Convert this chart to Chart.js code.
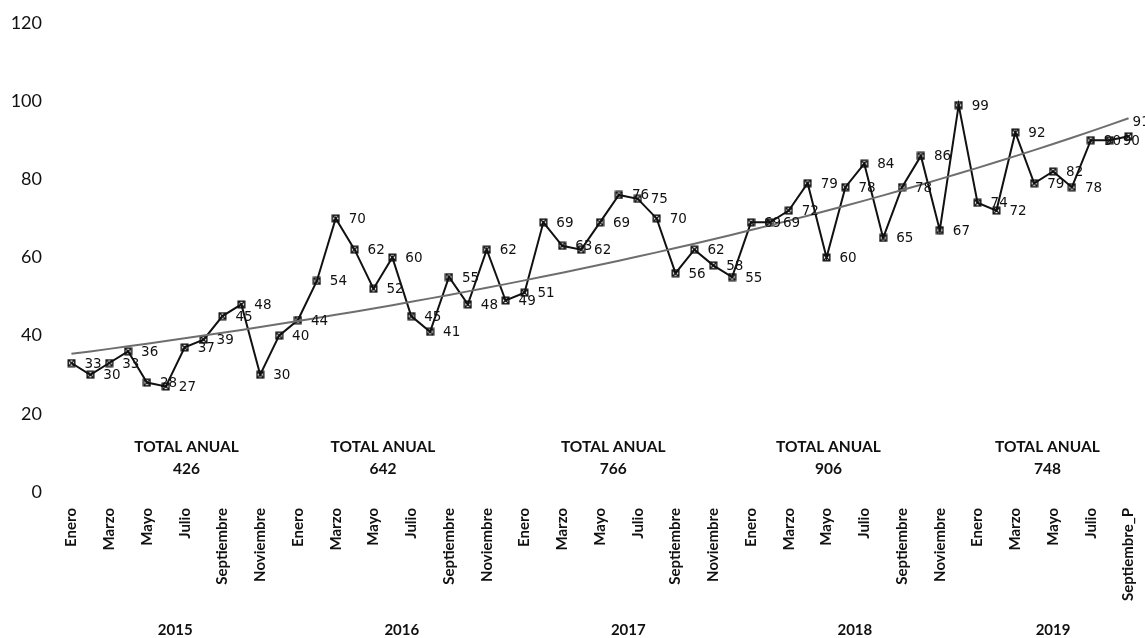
<!DOCTYPE html>
<html>
<head>
<meta charset="utf-8">
<script src="https://cdn.jsdelivr.net/npm/chart.js@4"></script>
<style>
  html, body { margin: 0; padding: 0; background: #fff; }
  #wrap { width: 1145px; height: 638px; position: relative; }
</style>
</head>
<body>
<div id="wrap"><canvas id="c" width="1145" height="638"></canvas></div>
<script>
// ---- Data ----
const monthNames = ["Enero","Febrero","Marzo","Abril","Mayo","Junio","Julio","Agosto","Septiembre","Octubre","Noviembre","Diciembre"];
const years = ["2015","2016","2017","2018","2019"];
const monthsPerYear = [12, 12, 12, 12, 9];
const values2015 = [33,30,33,36,28,27,37,39,45,48,30,40];
const values2016 = [44,54,70,62,52,60,45,41,55,48,62,49];
const values2017 = [51,69,63,62,69,76,75,70,56,62,58,55];
const values2018 = [69,69,72,79,60,78,84,65,78,86,67,99];
const values2019 = [74,72,92,79,82,78,90,90,91];
const annualTotals = [426, 642, 766, 906, 748];
const totalLabel = "TOTAL ANUAL";
const yTicks = [0,20,40,60,80,100,120];

// ---- Build categories ----
const categories = [];
years.forEach((y, yi) => {
  for (let m = 0; m < monthsPerYear[yi]; m++) {
    let name = monthNames[m];
    if (yi === years.length - 1 && m === monthsPerYear[yi] - 1) name = name + "_P";
    categories.push(name);
  }
});
const values = [].concat(values2015, values2016, values2017, values2018, values2019);

// Exponential trendline (least squares on ln y), as Excel does
const n = values.length;
let sx = 0, sy = 0, sxx = 0, sxy = 0;
values.forEach((v, i) => { const x = i + 1, ly = Math.log(v); sx += x; sy += ly; sxx += x * x; sxy += x * ly; });
const b = (n * sxy - sx * sy) / (n * sxx - sx * sx);
const a = Math.exp((sy - b * sx) / n);
const trend = values.map((v, i) => a * Math.exp(b * (i + 1)));

// ---- Marker ----
const mk = document.createElement('canvas');
mk.width = 9; mk.height = 9;
(function () {
  const c = mk.getContext('2d');
  c.strokeStyle = '#111'; c.lineWidth = 1.4;
  c.strokeRect(1.2, 1.2, 6.6, 6.6);
  c.beginPath(); c.moveTo(1.5, 1.5); c.lineTo(7.5, 7.5); c.moveTo(7.5, 1.5); c.lineTo(1.5, 7.5); c.stroke();
})();

// ---- Annotation positions (category index units / value units) ----
const totalAnchors = [6.1, 16.5, 28.7, 40.1, 51.7];
const totalTitleY = 11.4, totalValueY = 6.0;

const annotPlugin = {
  id: 'annot',
  afterDatasetsDraw(chart) {
    const ctx = chart.ctx, xs = chart.scales.x, ys = chart.scales.y;
    ctx.save();
    // data labels
    const meta = chart.getDatasetMeta(0);
    ctx.font = '13.5px "DejaVu Sans"';
    ctx.fillStyle = '#111';
    ctx.textAlign = 'left'; ctx.textBaseline = 'middle';
    meta.data.forEach((pt, i) => {
      if (i === meta.data.length - 1) {
        ctx.fillText(String(values[i]), pt.x + 4, pt.y - 14);
      } else {
        ctx.fillText(String(values[i]), pt.x + 13, pt.y + 1);
      }
    });
    // totals
    ctx.font = 'bold 15.5px Lato';
    ctx.textAlign = 'center';
    annualTotals.forEach((t, i) => {
      const x = xs.getPixelForValue(totalAnchors[i]);
      ctx.fillText(totalLabel, x, ys.getPixelForValue(totalTitleY));
      ctx.fillText(String(t), x, ys.getPixelForValue(totalValueY));
    });
    // years
    ctx.font = 'bold 15px Lato';
    let start = 0;
    years.forEach((y, yi) => {
      const end = start + monthsPerYear[yi] - 1;
      const x = (xs.getPixelForValue(start) + xs.getPixelForValue(end)) / 2;
      ctx.fillText(y, x, 630);
      start = end + 1;
    });
    ctx.restore();
  }
};

new Chart(document.getElementById('c'), {
  type: 'line',
  data: {
    labels: categories,
    datasets: [
      {
        data: values,
        borderColor: '#111',
        borderWidth: 2,
        pointStyle: mk,
        pointRadius: 4,
        tension: 0,
        order: 2
      },
      {
        data: trend,
        borderColor: '#6e6e6e',
        borderWidth: 2,
        pointRadius: 0,
        tension: 0,
        order: 1
      }
    ]
  },
  options: {
    responsive: false,
    animation: false,
    events: [],
    layout: { padding: { left: 0, right: 7, top: 23, bottom: 0 } },
    plugins: { legend: { display: false }, tooltip: { enabled: false } },
    scales: {
      x: {
        offset: true,
        grid: { display: false, drawTicks: false },
        border: { display: false },
        afterFit(s) { s.height = 146; s.paddingLeft = 0; s.paddingRight = 0; },
        ticks: {
          autoSkip: false,
          maxRotation: 90, minRotation: 90,
          padding: 16,
          color: '#111',
          font: { family: 'Lato', weight: 'bold', size: 15 },
          callback(v, i) { return i % 2 === 0 ? categories[i] : ''; }
        }
      },
      y: {
        min: 0, max: 120,
        afterFit(s) { s.width = 62; s.paddingTop = 0; s.paddingBottom = 0; },
        afterBuildTicks(s) { s.ticks = yTicks.map(v => ({ value: v })); },
        grid: { display: false, drawTicks: false },
        border: { display: false },
        ticks: {
          padding: 20,
          color: '#111',
          font: { family: 'Lato', size: 18 }
        }
      }
    }
  },
  plugins: [annotPlugin]
});
</script>
</body>
</html>
